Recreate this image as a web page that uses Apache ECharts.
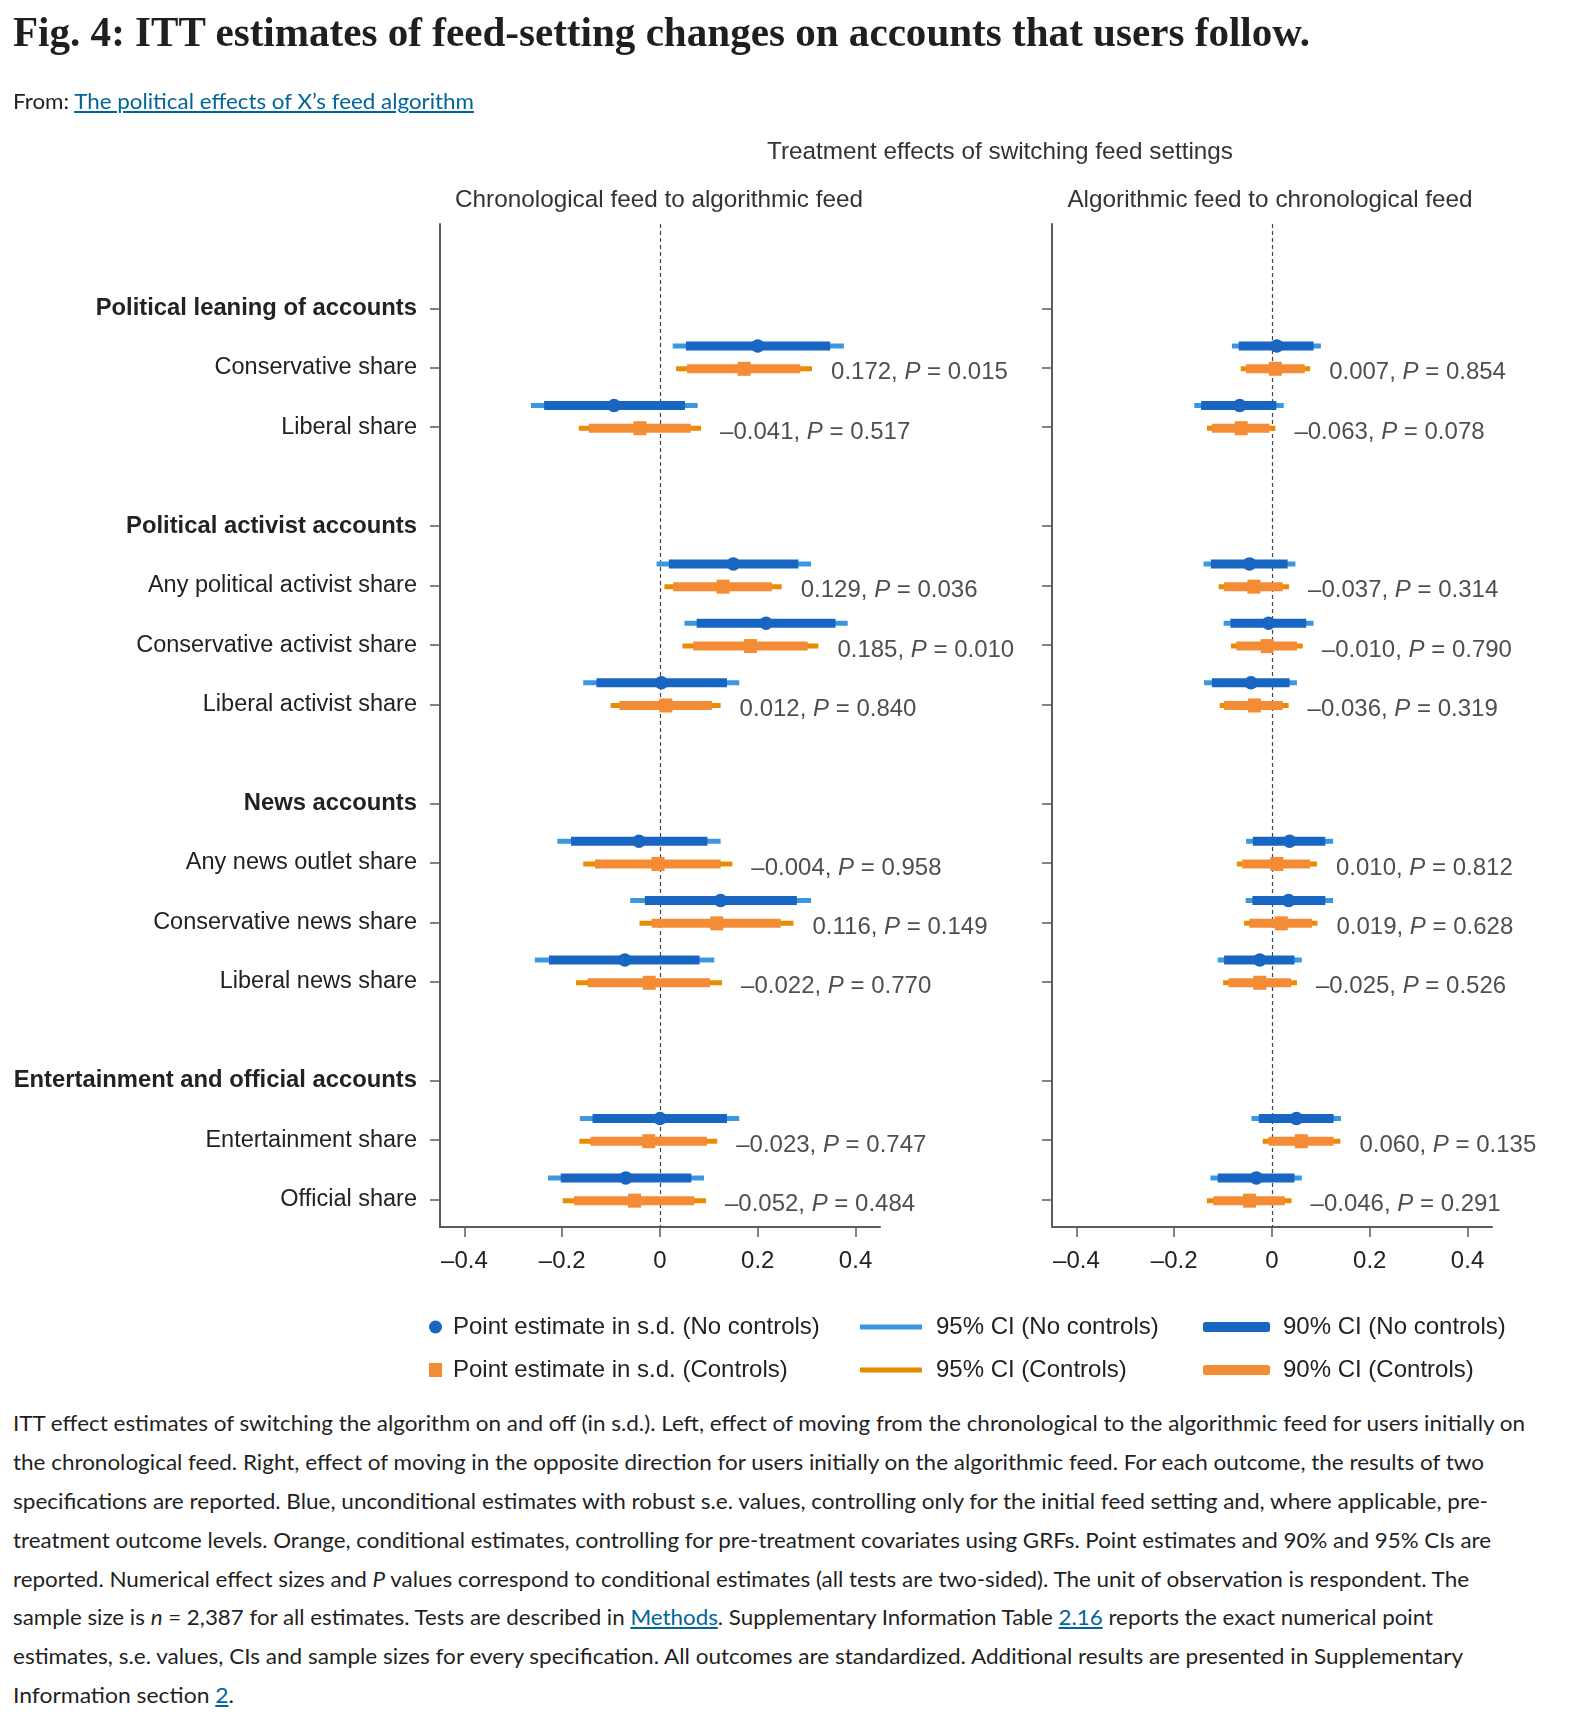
<!DOCTYPE html>
<html>
<head>
<meta charset="utf-8">
<script src="https://cdn.jsdelivr.net/npm/echarts@6/dist/echarts.min.js"></script>
<style>
  html, body { margin: 0; padding: 0; background: #fff; }
  body { width: 1574px; height: 1720px; position: relative; overflow: hidden; color: #222; }
  #chart { position: absolute; left: 0; top: 0; width: 1574px; height: 1400px; }
  .fit { position: absolute; left: 13px; display: inline-block; white-space: nowrap; transform-origin: 0 50%; }
  #title { top: 7px; font: bold 42px/50px "Liberation Serif", "DejaVu Serif", serif; color: #1f1f1f; }
  #from { top: 87px; font: 21px/28px Lato, "Noto Sans", sans-serif; color: #222; }
  .cap { font: 21px/28px Lato, "Noto Sans", sans-serif; color: #1f1f1f; }
  a { color: #006699; text-decoration: underline; }
</style>
</head>
<body>
<div id="chart"></div>
<div id="title" class="fit" data-w="1297">Fig. 4: ITT estimates of feed-setting changes on accounts that users follow.</div>
<div id="from" class="fit" data-w="461">From: <a>The political effects of X’s feed algorithm</a></div>
<div class="fit cap" style="top:1409px" data-w="1512">ITT effect estimates of switching the algorithm on and off (in s.d.). Left, effect of moving from the chronological to the algorithmic feed for users initially on</div>
<div class="fit cap" style="top:1448px" data-w="1471">the chronological feed. Right, effect of moving in the opposite direction for users initially on the algorithmic feed. For each outcome, the results of two</div>
<div class="fit cap" style="top:1487px" data-w="1475">specifications are reported. Blue, unconditional estimates with robust s.e. values, controlling only for the initial feed setting and, where applicable, pre-</div>
<div class="fit cap" style="top:1526px" data-w="1478">treatment outcome levels. Orange, conditional estimates, controlling for pre-treatment covariates using GRFs. Point estimates and 90% and 95% CIs are</div>
<div class="fit cap" style="top:1565px" data-w="1456">reported. Numerical effect sizes and <i>P</i> values correspond to conditional estimates (all tests are two-sided). The unit of observation is respondent. The</div>
<div class="fit cap" style="top:1603px" data-w="1420">sample size is <i>n</i> = 2,387 for all estimates. Tests are described in <a>Methods</a>. Supplementary Information Table <a>2.16</a> reports the exact numerical point</div>
<div class="fit cap" style="top:1642px" data-w="1450">estimates, s.e. values, CIs and sample sizes for every specification. All outcomes are standardized. Additional results are presented in Supplementary</div>
<div class="fit cap" style="top:1681px" data-w="221">Information section <a>2</a>.</div>

<script>
// ---------------- DATA ----------------
const groups = [
  'Political leaning of accounts',
  'Political activist accounts',
  'News accounts',
  'Entertainment and official accounts'
];
const outcomes = [
  'Conservative share', 'Liberal share',
  'Any political activist share', 'Conservative activist share', 'Liberal activist share',
  'Any news outlet share', 'Conservative news share', 'Liberal news share',
  'Entertainment share', 'Official share'
];
const outcomeGroup = [0, 0, 1, 1, 1, 2, 2, 2, 3, 3];
const panelTitles = ['Chronological feed to algorithmic feed', 'Algorithmic feed to chronological feed'];
const xTickValues = [-0.4, -0.2, 0, 0.2, 0.4];

// each row: [point, lo95, hi95, lo90, hi90]
const chronoNoControls = [
  [0.200, 0.026, 0.376, 0.053, 0.348],
  [-0.094, -0.264, 0.077, -0.237, 0.051],
  [0.150, -0.007, 0.309, 0.018, 0.283],
  [0.217, 0.050, 0.384, 0.075, 0.359],
  [0.003, -0.157, 0.162, -0.130, 0.137],
  [-0.043, -0.210, 0.124, -0.182, 0.097],
  [0.124, -0.061, 0.309, -0.031, 0.280],
  [-0.072, -0.256, 0.111, -0.227, 0.081],
  [0.000, -0.164, 0.162, -0.138, 0.137],
  [-0.070, -0.229, 0.090, -0.203, 0.064]
];
const chronoControls = [
  [0.172, 0.033, 0.311, 0.055, 0.287],
  [-0.041, -0.166, 0.084, -0.146, 0.063],
  [0.129, 0.009, 0.249, 0.027, 0.229],
  [0.185, 0.046, 0.324, 0.068, 0.302],
  [0.012, -0.101, 0.124, -0.083, 0.106],
  [-0.004, -0.157, 0.148, -0.133, 0.124],
  [0.116, -0.042, 0.273, -0.017, 0.247],
  [-0.022, -0.172, 0.127, -0.148, 0.102],
  [-0.023, -0.165, 0.117, -0.142, 0.096],
  [-0.052, -0.199, 0.094, -0.176, 0.070]
];
const algoNoControls = [
  [0.010, -0.082, 0.100, -0.068, 0.085],
  [-0.066, -0.159, 0.024, -0.145, 0.009],
  [-0.046, -0.140, 0.048, -0.125, 0.032],
  [-0.007, -0.099, 0.085, -0.085, 0.070],
  [-0.043, -0.139, 0.051, -0.123, 0.036],
  [0.036, -0.053, 0.125, -0.039, 0.109],
  [0.034, -0.054, 0.125, -0.040, 0.109],
  [-0.025, -0.111, 0.061, -0.098, 0.046],
  [0.050, -0.042, 0.141, -0.027, 0.126],
  [-0.032, -0.126, 0.061, -0.111, 0.046]
];
const algoControls = [
  [0.007, -0.064, 0.078, -0.053, 0.067],
  [-0.063, -0.133, 0.007, -0.123, -0.005],
  [-0.037, -0.109, 0.035, -0.098, 0.022],
  [-0.010, -0.084, 0.063, -0.073, 0.051],
  [-0.036, -0.107, 0.034, -0.098, 0.022],
  [0.010, -0.072, 0.092, -0.061, 0.078],
  [0.019, -0.057, 0.093, -0.046, 0.082],
  [-0.025, -0.100, 0.051, -0.089, 0.039],
  [0.060, -0.019, 0.140, -0.007, 0.126],
  [-0.046, -0.133, 0.040, -0.120, 0.026]
];
const chronoPValues = [0.015, 0.517, 0.036, 0.010, 0.840, 0.958, 0.149, 0.770, 0.747, 0.484];
const algoPValues   = [0.854, 0.078, 0.314, 0.790, 0.319, 0.812, 0.628, 0.526, 0.135, 0.291];

// ---------------- LAYOUT / STYLE ----------------
const FONT = '"Liberation Sans", Arial, Helvetica, sans-serif';
const FS = 23.5;   // y-axis labels
const FS_H = 23.8; // bold group headers
const FS2 = 24;    // annotations, legend, tick labels
const FS_T = 24.3; // panel titles
const TXT = '#222';
const AXIS = '#5b5b5b';
const BLUE_95 = '#3a97e0', BLUE_90 = '#1866c2', BLUE_PT = '#1866c2';
const ORANGE_95 = '#e98c00', ORANGE_90 = '#f48c35', ORANGE_PT = '#f48c35';
const ROW_STEP = 3, GROUP_GAP = 5;
const NOCTRL_SHIFT = -1.1, CTRL_SHIFT = 0.05;

const N_PT = 'Point estimate in s.d. (No controls)', C_PT = 'Point estimate in s.d. (Controls)';
const N95 = '95% CI (No controls)', C95 = '95% CI (Controls)';
const N90 = '90% CI (No controls)', C90 = '90% CI (Controls)';

// row positions derived from group structure
const headerPos = [];
const rowPos = [];
let cursor = 0;
groups.forEach((g, gi) => {
  if (gi > 0) cursor += GROUP_GAP;
  headerPos.push(cursor);
  outcomes.forEach((o, i) => {
    if (outcomeGroup[i] === gi) { cursor += ROW_STEP; rowPos[i] = cursor; }
  });
});
const labelAt = {};
headerPos.forEach((p, i) => labelAt[p] = { text: groups[i], head: true });
rowPos.forEach((p, i) => labelAt[p] = { text: outcomes[i], head: false });
const yTicks = headerPos.concat(rowPos).sort((a, b) => a - b);

const fmtNum = v => (v < 0 ? '–' : '') + Math.abs(v).toFixed(3);

function ciRender(h) {
  return function (params, api) {
    const a = api.coord([api.value(0), api.value(2)]);
    const b = api.coord([api.value(1), api.value(2)]);
    return {
      type: 'rect',
      shape: { x: a[0], y: a[1] - h / 2, width: b[0] - a[0], height: h },
      style: { fill: api.visual('color') }
    };
  };
}

function panelSeries(gi, noCtrl, ctrl, pvals) {
  const common = { xAxisIndex: gi, yAxisIndex: gi };
  const ci = (rows, loIdx, hiIdx, shift) => rows.map((r, i) => [r[loIdx], r[hiIdx], rowPos[i] + shift]);
  const pt = (rows, shift) => rows.map((r, i) => [r[0], rowPos[i] + shift]);
  return [
    Object.assign({
      type: 'custom', name: N95, renderItem: ciRender(5), itemStyle: { color: BLUE_95 },
      encode: { x: [0, 1], y: 2 }, data: ci(noCtrl, 1, 2, NOCTRL_SHIFT), z: 2,
      markLine: {
        silent: true, symbol: 'none', label: { show: false },
        lineStyle: { type: [4, 3], color: '#444', width: 1.2 },
        data: [{ xAxis: 0 }], z: 1
      }
    }, common),
    Object.assign({
      type: 'custom', name: N90, renderItem: ciRender(9), itemStyle: { color: BLUE_90 },
      encode: { x: [0, 1], y: 2 }, data: ci(noCtrl, 3, 4, NOCTRL_SHIFT), z: 3
    }, common),
    Object.assign({
      type: 'scatter', name: N_PT, symbol: 'circle', symbolSize: 13.5,
      itemStyle: { color: BLUE_PT, opacity: 1 }, data: pt(noCtrl, NOCTRL_SHIFT), z: 4
    }, common),
    Object.assign({
      type: 'custom', name: C95, renderItem: ciRender(5), itemStyle: { color: ORANGE_95 },
      encode: { x: [0, 1], y: 2 }, data: ci(ctrl, 1, 2, CTRL_SHIFT), z: 2
    }, common),
    Object.assign({
      type: 'custom', name: C90, renderItem: ciRender(9), itemStyle: { color: ORANGE_90 },
      encode: { x: [0, 1], y: 2 }, data: ci(ctrl, 3, 4, CTRL_SHIFT), z: 3
    }, common),
    Object.assign({
      type: 'scatter', name: C_PT, symbol: 'rect', symbolSize: [13, 14],
      itemStyle: { color: ORANGE_PT, opacity: 1 }, data: pt(ctrl, CTRL_SHIFT), z: 4
    }, common),
    Object.assign({
      type: 'scatter', name: 'annotation' + gi, symbolSize: 0, silent: true,
      data: ctrl.map((r, i) => ({ value: [r[2], rowPos[i] + CTRL_SHIFT], est: r[0], p: pvals[i] })),
      label: {
        show: true, position: 'right', distance: 19, offset: [0, 4],
        formatter: p => `{n|${fmtNum(p.data.est)}, }{i|P}{n| = ${p.data.p.toFixed(3)}}`,
        rich: {
          n: { fontSize: FS2, fontFamily: FONT, color: TXT },
          i: { fontSize: FS2, fontFamily: FONT, color: TXT, fontStyle: 'italic' }
        }
      },
      z: 5
    }, common)
  ];
}

function xAxisFor(gi) {
  return {
    type: 'value', gridIndex: gi, min: -0.45, max: 0.45,
    axisLine: { show: true, onZero: false, lineStyle: { color: AXIS, width: 2 } },
    axisTick: { show: true, customValues: xTickValues, length: 10, lineStyle: { color: AXIS, width: 1.5 } },
    axisLabel: {
      show: true, customValues: xTickValues, margin: 22,
      fontSize: FS2, fontFamily: FONT, color: TXT,
      formatter: v => (v === 0 ? '0' : String(+v.toFixed(1)).replace('-', '–'))
    },
    splitLine: { show: false }
  };
}
function yAxisFor(gi, showLabels) {
  return {
    type: 'value', gridIndex: gi, inverse: true, min: -4.26, max: 46.38,
    axisLine: { show: true, onZero: false, lineStyle: { color: AXIS, width: 2 } },
    axisTick: { show: true, customValues: yTicks, length: 10, lineStyle: { color: AXIS, width: 1.5 } },
    axisLabel: {
      show: showLabels, customValues: yTicks, margin: 23,
      formatter: v => {
        const l = labelAt[Math.round(v)];
        if (!l) return '';
        return l.head ? `{h|${l.text}}` : `{n|${l.text}}`;
      },
      rich: {
        h: { fontSize: FS_H, fontFamily: FONT, fontWeight: 'bold', color: TXT },
        n: { fontSize: FS, fontFamily: FONT, color: TXT }
      }
    },
    splitLine: { show: false }
  };
}

const legendText = pad => ({ fontSize: FS2, fontFamily: FONT, color: TXT, lineHeight: 24, padding: [0, 0, 0, pad] });

const option = {
  animation: false,
  backgroundColor: '#fff',
  grid: [
    { left: 440, top: 224, width: 440, height: 1003 },
    { left: 1052, top: 224, width: 440, height: 1003 }
  ],
  xAxis: [xAxisFor(0), xAxisFor(1)],
  yAxis: [yAxisFor(0, true), yAxisFor(1, false)],
  graphic: [
    { type: 'text', x: 1000, y: 152, style: { text: 'Treatment effects of switching feed settings', fontSize: FS_T, fontFamily: FONT, fill: '#333', align: 'center', verticalAlign: 'middle' } },
    { type: 'text', x: 659, y: 200, style: { text: panelTitles[0], fontSize: FS_T, fontFamily: FONT, fill: '#333', align: 'center', verticalAlign: 'middle' } },
    { type: 'text', x: 1270, y: 200, style: { text: panelTitles[1], fontSize: FS_T, fontFamily: FONT, fill: '#333', align: 'center', verticalAlign: 'middle' } }
  ],
  legend: [
    { left: 429, top: 1315, orient: 'vertical', padding: 0, itemWidth: 13, itemHeight: 14, itemGap: 19, selectedMode: false,
      data: [{ name: N_PT, icon: 'circle' }, { name: C_PT, icon: 'rect' }], textStyle: legendText(6) },
    { left: 860, top: 1315, orient: 'vertical', padding: 0, itemWidth: 62, itemHeight: 5, itemGap: 19, selectedMode: false,
      data: [{ name: N95, icon: 'rect' }, { name: C95, icon: 'rect' }], textStyle: legendText(9) },
    { left: 1203, top: 1315, orient: 'vertical', padding: 0, itemWidth: 67, itemHeight: 10, itemGap: 19, selectedMode: false,
      data: [{ name: N90, icon: 'roundRect' }, { name: C90, icon: 'roundRect' }], textStyle: legendText(8) }
  ],
  series: [].concat(
    panelSeries(0, chronoNoControls, chronoControls, chronoPValues),
    panelSeries(1, algoNoControls, algoControls, algoPValues)
  )
};

const chart = echarts.init(document.getElementById('chart'));
chart.setOption(option);

function fitLines() {
  document.querySelectorAll('.fit').forEach(el => {
    el.style.transform = 'none';
    const w = el.getBoundingClientRect().width;
    const t = +el.dataset.w;
    if (w > 0) el.style.transform = 'scaleX(' + (t / w) + ')';
  });
}
fitLines();
if (document.fonts && document.fonts.ready) document.fonts.ready.then(fitLines);
</script>
</body>
</html>
